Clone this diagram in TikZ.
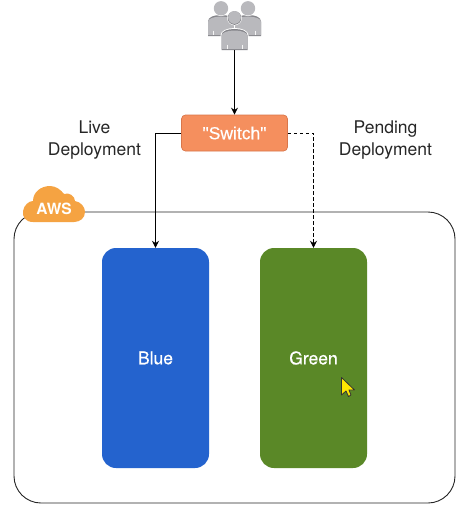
\documentclass[tikz,border=0pt]{standalone}
\usepackage{fontspec}
\setmainfont{TeX Gyre Heros}
\newfontfamily\quotefont[FakeBold=0.4]{Liberation Sans}
\newfontfamily\whitefont[FakeBold=0.4]{TeX Gyre Heros}
\usetikzlibrary{arrows.meta}
\definecolor{bluebox}{HTML}{2463CE}
\definecolor{greenbox}{HTML}{5A8827}
\definecolor{switchfill}{HTML}{F58F5E}
\definecolor{switchline}{HTML}{D9764A}
\definecolor{awsfill}{HTML}{F5A342}
\definecolor{usergray}{HTML}{B9B9BD}
\definecolor{usershade}{HTML}{85858A}
\tikzset{
  appbox/.style={rectangle,rounded corners=14pt,minimum width=107pt,minimum height=220pt,inner sep=0pt,text=white,font=\whitefont\fontsize{17.5}{21}\selectfont},
  link/.style={draw=black,line width=0.9pt,-{Stealth[length=7pt,width=7pt]}},
  caption/.style={align=center,font=\fontsize{17.5}{22}\selectfont,text=black!85,inner sep=0pt},
  personbody/.pic={
    \fill[white] (-14,20) -- (-14,5) .. controls (-14,0) and (-7,-2.5) .. (0,-2.5) .. controls (7,-2.5) and (14,0) .. (14,5) -- (14,20) -- cycle;
    \fill[usershade] (-13,19.5) -- (-13,5) .. controls (-13,0.5) and (-7,-1.5) .. (0,-1.5) .. controls (7,-1.5) and (13,0.5) .. (13,5) -- (13,19.5) -- cycle;
    \fill[usergray] (-13,18.5) -- (-13,5.5) .. controls (-13,2) and (-7,0) .. (0,0) .. controls (7,0) and (13,2) .. (13,5.5) -- (13,18.5) -- cycle;
    \draw[white!85!usergray,line width=0.6pt] (-7.5,14) -- (-7.5,18.5) (7.5,14) -- (7.5,18.5);
  },
}
\begin{document}
\begin{tikzpicture}[x=1pt,y=-1pt]
\useasboundingbox (0,0) rectangle (463,509);
\fill[white] (0,0) rectangle (463,509);
% container
\node[draw=black!85,line width=0.9pt,rounded corners=27pt,minimum width=441pt,minimum height=291pt,inner sep=0pt] (cloudbox) at (234.5,357.5) {};
% AWS cloud
\fill[awsfill] (33,222)
  .. controls (25,222) and (22,216) .. (23,211)
  .. controls (24,205) and (29,201) .. (33,201)
  .. controls (33,192) and (41,186) .. (50,186)
  .. controls (56,186) and (61,190) .. (64,194)
  .. controls (69,192) and (75,196) .. (75,201)
  .. controls (81,202) and (85,207) .. (85,212)
  .. controls (85,218) and (80,222) .. (74,222) -- cycle;
\node[text=white,font=\bfseries\fontsize{15.5}{18}\selectfont,inner sep=0pt] (awslabel) at (54,208.5) {AWS};
% boxes
\node[appbox,fill=bluebox] (blue) at (155.5,358) {Blue};
\node[appbox,fill=greenbox] (green) at (313.5,358) {Green};
\node[rectangle,rounded corners=4pt,fill=switchfill,draw=switchline,line width=0.7pt,minimum width=106pt,minimum height=36pt,inner sep=0pt,text=white,font=\quotefont\fontsize{17.5}{21}\selectfont] (switch) at (234.5,133) {"Switch"};
% users icon
\pic at (221,16.5) {personbody};
\pic at (248,16.5) {personbody};
\fill[white] (221,8.3) circle (7.8pt);
\fill[white] (248,8.3) circle (7.8pt);
\fill[usergray] (221,8.3) circle (7.2pt);
\fill[usergray] (248,8.3) circle (7.2pt);
\pic at (234.5,30.5) {personbody};
\fill[white] (234.5,18) circle (7.4pt);
\fill[usershade] (234.5,18) circle (6.8pt);
\fill[usergray] (234.5,17.5) circle (6.4pt);
\coordinate (users) at (234.5,50);
% connectors
\draw[link] (users) -- (switch.north);
\draw[link] (switch.west) -| (blue.north);
\draw[link,dash pattern=on 3.5pt off 2.5pt] (switch.east) -| (green.north);
% labels
\node[caption,anchor=base] (live) at (94.5,155) {Live\\Deployment};
\node[caption,anchor=base] (pending) at (385.5,155) {Pending\\Deployment};
% cursor
\draw[fill=yellow!90!orange,draw=black!80,line width=0.8pt,line join=round] (341.5,377.5) -- (341.5,395) -- (346,391) -- (348.5,396.5) -- (351,395) -- (349,390) -- (354.5,390) -- cycle;
\end{tikzpicture}
\end{document}
